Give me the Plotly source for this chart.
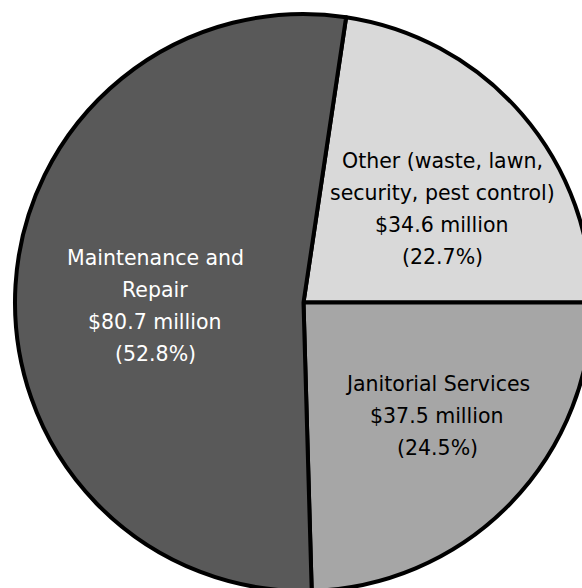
import plotly.graph_objects as go

# Facility services spending, in millions of dollars
categories = [
    "Other (waste, lawn,<br>security, pest control)",
    "Janitorial Services",
    "Maintenance and<br>Repair",
]
spend_millions = [34.6, 37.5, 80.7]
share_pct = [22.7, 24.5, 52.8]

slice_colors = ["#d9d9d9", "#a6a6a6", "#595959"]
text_colors = ["#000000", "#000000", "#ffffff"]

# Page geometry (pixels)
W, H = 600, 600
M = dict(l=15, r=8, t=14, b=9)
plot_w = W - M["l"] - M["r"]
plot_h = H - M["t"] - M["b"]

# Centre of each label block, in page pixels
label_centers = [(442, 209), (437, 416), (155, 306)]
LINE_STEP = 32
FONT = dict(family="DejaVu Sans", size=20.5)


def to_paper(px, py):
    return (px - M["l"]) / plot_w, 1 - (py - M["t"]) / plot_h


fig = go.Figure(
    go.Pie(
        labels=categories,
        values=spend_millions,
        sort=False,
        direction="clockwise",
        rotation=8.5,
        marker=dict(colors=slice_colors, line=dict(color="#000000", width=4)),
        textinfo="none",
        hoverinfo="label+value",
        showlegend=False,
        domain=dict(x=[0, 1], y=[0, 1]),
    )
)

annotations = []
for label, val, pct, color, (cx, cy) in zip(
    categories, spend_millions, share_pct, text_colors, label_centers
):
    lines = label.split("<br>") + [f"${val:.1f} million", f"({pct:.1f}%)"]
    n = len(lines)
    x, y = to_paper(cx, cy)
    for i, line in enumerate(lines):
        annotations.append(
            dict(
                x=x,
                y=y,
                xref="paper",
                yref="paper",
                text=line,
                showarrow=False,
                xanchor="center",
                yanchor="middle",
                yshift=-(i - (n - 1) / 2) * LINE_STEP,
                font=dict(color=color, **FONT),
            )
        )

fig.update_layout(
    width=W,
    height=H,
    margin=dict(**M, pad=0),
    paper_bgcolor="#ffffff",
    plot_bgcolor="#ffffff",
    annotations=annotations,
)

fig.write_html(
    "out.html",
    post_script=(
        "document.body.style.margin='0';"
        "document.body.style.overflow='hidden';"
        "document.documentElement.style.overflow='hidden';"
    ),
)
